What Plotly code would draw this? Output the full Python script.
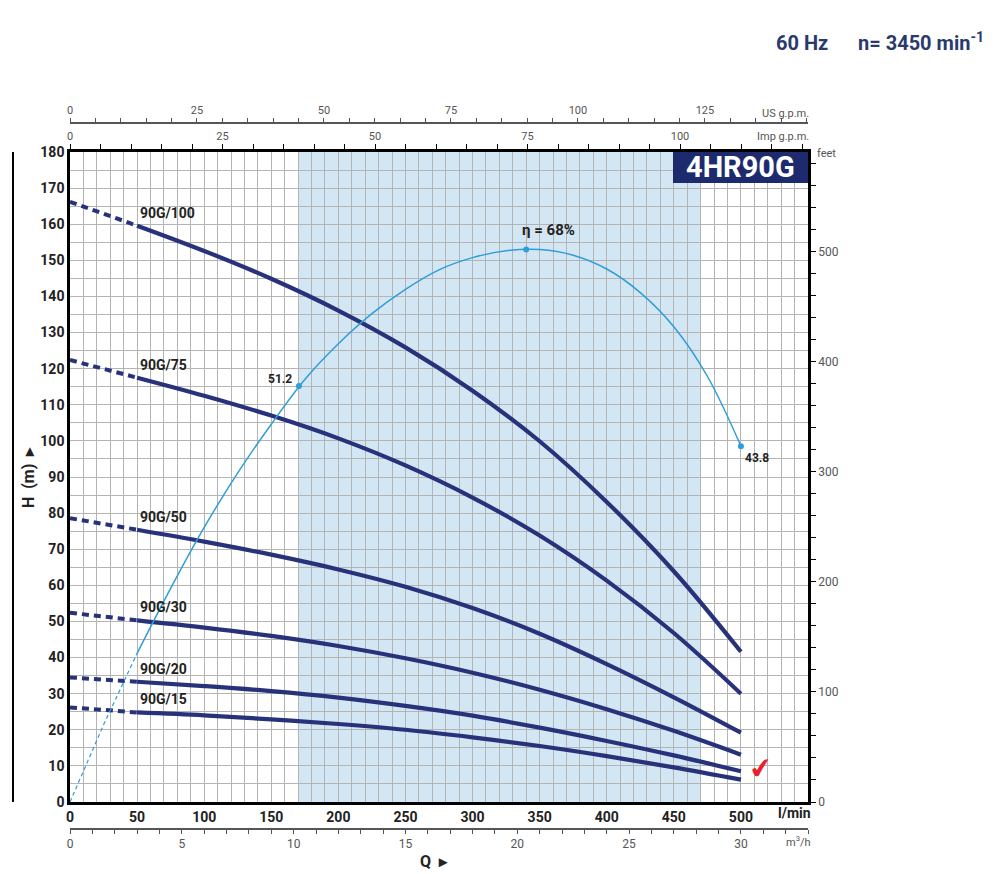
import plotly.graph_objects as go

# ---------------- data ----------------
flow_lmin = [50, 100, 150, 200, 250, 300, 350, 400, 450, 500]

models = ["90G/100", "90G/75", "90G/50", "90G/30", "90G/20", "90G/15"]
shutoff_head = [166.2, 122.4, 78.6, 52.4, 34.5, 26.2]   # head at Q = 0 (dashed start)

head_90g100 = [159.6, 152.6, 144.9, 136.1, 125.9, 113.9, 99.9, 83.1, 63.9, 41.6]
head_90g75 = [117.5, 112.5, 107.0, 100.7, 93.2, 84.3, 73.8, 61.3, 46.8, 30.0]
head_90g50 = [75.4, 72.1, 68.5, 64.4, 59.6, 53.7, 46.6, 38.2, 29.0, 19.2]
head_90g30 = [50.3, 48.3, 46.0, 43.2, 39.8, 35.8, 31.1, 25.7, 19.7, 13.1]
head_90g20 = [33.3, 32.1, 30.7, 28.9, 26.6, 23.9, 20.6, 16.9, 12.9, 8.5]
head_90g15 = [24.8, 24.0, 22.9, 21.6, 20.0, 17.9, 15.5, 12.7, 9.6, 6.2]
heads = [head_90g100, head_90g75, head_90g50, head_90g30, head_90g20, head_90g15]

eff_q_dash = [0, 25, 50]
eff_pct_dash = [0, 9.5, 18.3]
eff_q = [50, 75, 100, 125, 150, 175, 200, 225, 250, 275, 300, 325, 350, 375, 400, 425,
         450, 475, 500]
eff_pct = [18.3, 26.3, 33.8, 40.5, 46.5, 52.0, 56.4, 60.1, 63.1, 65.5, 67.0, 67.85, 68.0,
           67.3, 65.6, 62.7, 58.5, 52.4, 43.8]
eff_mark_q = [170.6, 340, 500]
eff_mark_pct = [51.2, 68.0, 43.8]
eff_mark_text = ["51.2", "\u03b7 = 68%", "43.8"]

band_q = [170, 470]          # recommended operating range (shaded)

Q_MAX, H_MAX = 550, 180
ETA_SCALE = 180 / 80         # efficiency drawn on head scale (180 m = 80 %)
LMIN_TO_M3H = 0.06
LMIN_TO_USGPM = 0.264172
LMIN_TO_IMPGPM = 0.219969
M_TO_FT = 3.28084

# ---------------- styling ----------------
NAVY = "#27327a"
EFF = "#2f9ed8"
GRID = "#b4b4b4"
BAND = "#d3e6f3"
FONT = "Liberation Sans Narrow, Roboto, Liberation Sans, sans-serif"

# page body has an 8px default margin: lay out in window pixels, shifted by OFF
OFF = 8
W, Hh = 1001 - 2 * OFF, 874 - OFF
PLOT_L, PLOT_R, PLOT_T, PLOT_B = 70, 808, 152, 802      # window pixels of the plot area
PAPER_T, PAPER_B = 100, 829
ML = PLOT_L - OFF
MR = W - (PLOT_R - OFF)
MT = PAPER_T - OFF
MB = Hh - (PAPER_B - OFF)
PW, PH = W - ML - MR, Hh - MT - MB


def px2x(px):
    return (px - OFF - ML) / PW


def py2y(py):
    return (Hh - MB - (py - OFF)) / PH


Y0, Y1 = py2y(PLOT_B), py2y(PLOT_T)
BOX_X0 = (673 - PLOT_L) / (PLOT_R - PLOT_L)
BOX_Y0 = 1 - 31 / (PLOT_B - PLOT_T)

fig = go.Figure()

# pump curves
for name, h0, h in zip(models, shutoff_head, heads):
    fig.add_trace(go.Scatter(x=[0, flow_lmin[0]], y=[h0, h[0]], mode="lines",
                             line=dict(color=NAVY, width=4, dash="7px,5px"),
                             showlegend=False, hoverinfo="skip"))
    fig.add_trace(go.Scatter(x=flow_lmin, y=h, mode="lines", name=name,
                             line=dict(color=NAVY, width=4.2, shape="spline", smoothing=1.0),
                             showlegend=False))

# efficiency curve
fig.add_trace(go.Scatter(x=eff_q_dash, y=[e * ETA_SCALE for e in eff_pct_dash], mode="lines",
                         line=dict(color=EFF, width=1.2, dash="4px,3px"),
                         showlegend=False, hoverinfo="skip"))
fig.add_trace(go.Scatter(x=eff_q, y=[e * ETA_SCALE for e in eff_pct], mode="lines",
                         line=dict(color=EFF, width=1.5, shape="spline", smoothing=1.0),
                         showlegend=False))
fig.add_trace(go.Scatter(x=eff_mark_q, y=[e * ETA_SCALE for e in eff_mark_pct], mode="markers",
                         marker=dict(color=EFF, size=6), showlegend=False))

# dummy traces so secondary axes are drawn
for xa, ya in [("x2", "y"), ("x3", "y"), ("x4", "y"), ("x", "y2")]:
    fig.add_trace(go.Scatter(x=[None], y=[None], xaxis=xa, yaxis=ya, showlegend=False,
                             hoverinfo="skip"))


# ---------------- axes ----------------
def labels(vals, every):
    return [str(v) if v % every == 0 else " " for v in vals]


us_vals = list(range(0, int(Q_MAX * LMIN_TO_USGPM) + 1, 5))
imp_vals = list(range(0, int(Q_MAX * LMIN_TO_IMPGPM) + 1, 5))
m3_vals = list(range(0, int(Q_MAX * LMIN_TO_M3H) + 1, 1))
ft_vals = list(range(0, int(H_MAX * M_TO_FT) + 1, 20))

tick_small = dict(family=FONT, size=11, color="#555")
bold14 = dict(family=FONT, size=14, color="#222", weight="bold")

fig.update_layout(
    width=W, height=Hh,
    margin=dict(l=ML, r=MR, t=MT, b=MB, autoexpand=False),
    paper_bgcolor="white", plot_bgcolor="white",
    font=dict(family=FONT, color="#222"),
    showlegend=False,
    xaxis=dict(range=[0, Q_MAX], domain=[0, 1], anchor="y",
               tickvals=list(range(0, 501, 50)), ticks="", tickfont=bold14,
               showgrid=True, gridcolor=GRID, gridwidth=1,
               minor=dict(dtick=10, showgrid=True, gridcolor=GRID, gridwidth=1),
               showline=True, linecolor="black", linewidth=2.5, zeroline=False),
    yaxis=dict(range=[0, H_MAX], domain=[Y0, Y1], anchor="x", dtick=10, ticks="",
               tickfont=bold14,
               showgrid=True, gridcolor=GRID, gridwidth=1,
               minor=dict(dtick=5, showgrid=True, gridcolor=GRID, gridwidth=1),
               showline=True, linecolor="black", linewidth=2.5, zeroline=False),
    yaxis2=dict(range=[0, H_MAX * M_TO_FT], overlaying="y", side="right", anchor="x",
                tickvals=ft_vals, ticktext=labels(ft_vals, 100), ticks="outside", ticklen=5,
                tickcolor="black", showgrid=False, showline=True, linecolor="black",
                linewidth=2.5, zeroline=False, tickfont=dict(family=FONT, size=12, color="#555")),
    xaxis2=dict(range=[0, Q_MAX * LMIN_TO_M3H], overlaying="x", anchor="free", position=0,
                side="bottom", tickvals=m3_vals, ticktext=labels(m3_vals, 5), ticks="outside",
                ticklen=4, tickcolor="#555", showgrid=False, showline=True, linecolor="#555",
                linewidth=1.5, zeroline=False, tickfont=dict(family=FONT, size=12, color="#555")),
    xaxis3=dict(range=[0, Q_MAX * LMIN_TO_USGPM], overlaying="x", anchor="free",
                position=py2y(123), side="top", tickvals=us_vals, ticktext=labels(us_vals, 25),
                ticks="outside", ticklen=4, tickcolor="#555", showgrid=False, showline=True,
                linecolor="#555", linewidth=1.5, zeroline=False, tickfont=tick_small),
    xaxis4=dict(range=[0, Q_MAX * LMIN_TO_IMPGPM], overlaying="x", anchor="y", side="top",
                tickvals=imp_vals, ticktext=labels(imp_vals, 25), ticks="outside", ticklen=5,
                tickcolor="black", showgrid=False, showline=True, linecolor="black",
                linewidth=2.5, zeroline=False, tickfont=tick_small),
)

# ---------------- shapes ----------------
fig.add_shape(type="rect", xref="x", yref="y domain", x0=band_q[0], x1=band_q[1], y0=0, y1=1,
              fillcolor=BAND, line=dict(width=0), layer="below")
fig.add_shape(type="rect", xref="x domain", yref="y domain", x0=BOX_X0, x1=1,
              y0=BOX_Y0, y1=1, fillcolor="#1d2b6e", line=dict(width=0), layer="above")
fig.add_shape(type="line", xref="paper", yref="paper", x0=px2x(13), x1=px2x(13), y0=Y0, y1=Y1,
              line=dict(color="black", width=2))

# ---------------- annotations ----------------
ann = []
for name, h in zip(models, heads):
    ann.append(dict(x=flow_lmin[0], y=h[0], xref="x", yref="y", text=name, showarrow=False,
                    xanchor="left", yanchor="bottom", xshift=1, yshift=3, font=bold14))

ann.append(dict(x=eff_mark_q[0], y=eff_mark_pct[0] * ETA_SCALE, xref="x", yref="y",
                text=eff_mark_text[0], showarrow=False, xanchor="right", yanchor="middle",
                xshift=-5, yshift=7, font=dict(family=FONT, size=12, color="#222", weight="bold")))
ann.append(dict(x=eff_mark_q[1], y=eff_mark_pct[1] * ETA_SCALE, xref="x", yref="y",
                text=eff_mark_text[1], showarrow=False, xanchor="left", yanchor="bottom",
                xshift=-6, yshift=8, font=dict(family=FONT, size=15, color="#222", weight="bold")))
ann.append(dict(x=eff_mark_q[2], y=eff_mark_pct[2] * ETA_SCALE, xref="x", yref="y",
                text=eff_mark_text[2], showarrow=False, xanchor="left", yanchor="top",
                xshift=2, yshift=-3, font=dict(family=FONT, size=12, color="#222", weight="bold")))

ann += [
    dict(x=(1 + BOX_X0) / 2, y=(1 + BOX_Y0) / 2, xref="x domain", yref="y domain",
         text="4HR90G", showarrow=False, xanchor="center", yanchor="middle",
         font=dict(family=FONT, size=29, color="white", weight="bold")),
    dict(x=px2x(986), y=py2y(42), xref="paper", yref="paper",
         text="60 Hz" + "&nbsp;" * 6 + "n= 3450 min<sup>-1</sup>", showarrow=False,
         xanchor="right", yanchor="middle",
         font=dict(family=FONT, size=20, color="#2b3a6e", weight="bold")),
    dict(x=px2x(811), y=py2y(113), xref="paper", yref="paper", text="US g.p.m.",
         showarrow=False, xanchor="right", yanchor="middle", font=tick_small),
    dict(x=px2x(811), y=py2y(137), xref="paper", yref="paper", text="Imp g.p.m.",
         showarrow=False, xanchor="right", yanchor="middle", font=tick_small),
    dict(x=px2x(815), y=py2y(153), xref="paper", yref="paper", text="feet",
         showarrow=False, xanchor="left", yanchor="middle", font=tick_small),
    dict(x=px2x(813), y=py2y(813), xref="paper", yref="paper", text="l/min",
         showarrow=False, xanchor="right", yanchor="middle", font=bold14),
    dict(x=px2x(813), y=py2y(841), xref="paper", yref="paper", text="m<sup>3</sup>/h",
         showarrow=False, xanchor="right", yanchor="middle", font=tick_small),
    dict(x=px2x(434), y=py2y(862), xref="paper", yref="paper", text="Q&nbsp;&nbsp;\u25b8",
         showarrow=False, xanchor="center", yanchor="middle",
         font=dict(family=FONT, size=16, color="#222", weight="bold")),
    dict(x=px2x(28), y=py2y(478), xref="paper", yref="paper",
         text="H&nbsp;&nbsp;(m)&nbsp;&nbsp;\u25b8",
         showarrow=False, xanchor="center", yanchor="middle", textangle=-90,
         font=dict(family=FONT, size=16, color="#222", weight="bold")),
    dict(x=px2x(760), y=py2y(768), xref="paper", yref="paper", text="\u2714",
         showarrow=False, xanchor="center", yanchor="middle", textangle=-8,
         font=dict(family="DejaVu Sans", size=28, color="#e5222b")),
]
fig.update_layout(annotations=ann)

fig.write_html("out.html")
